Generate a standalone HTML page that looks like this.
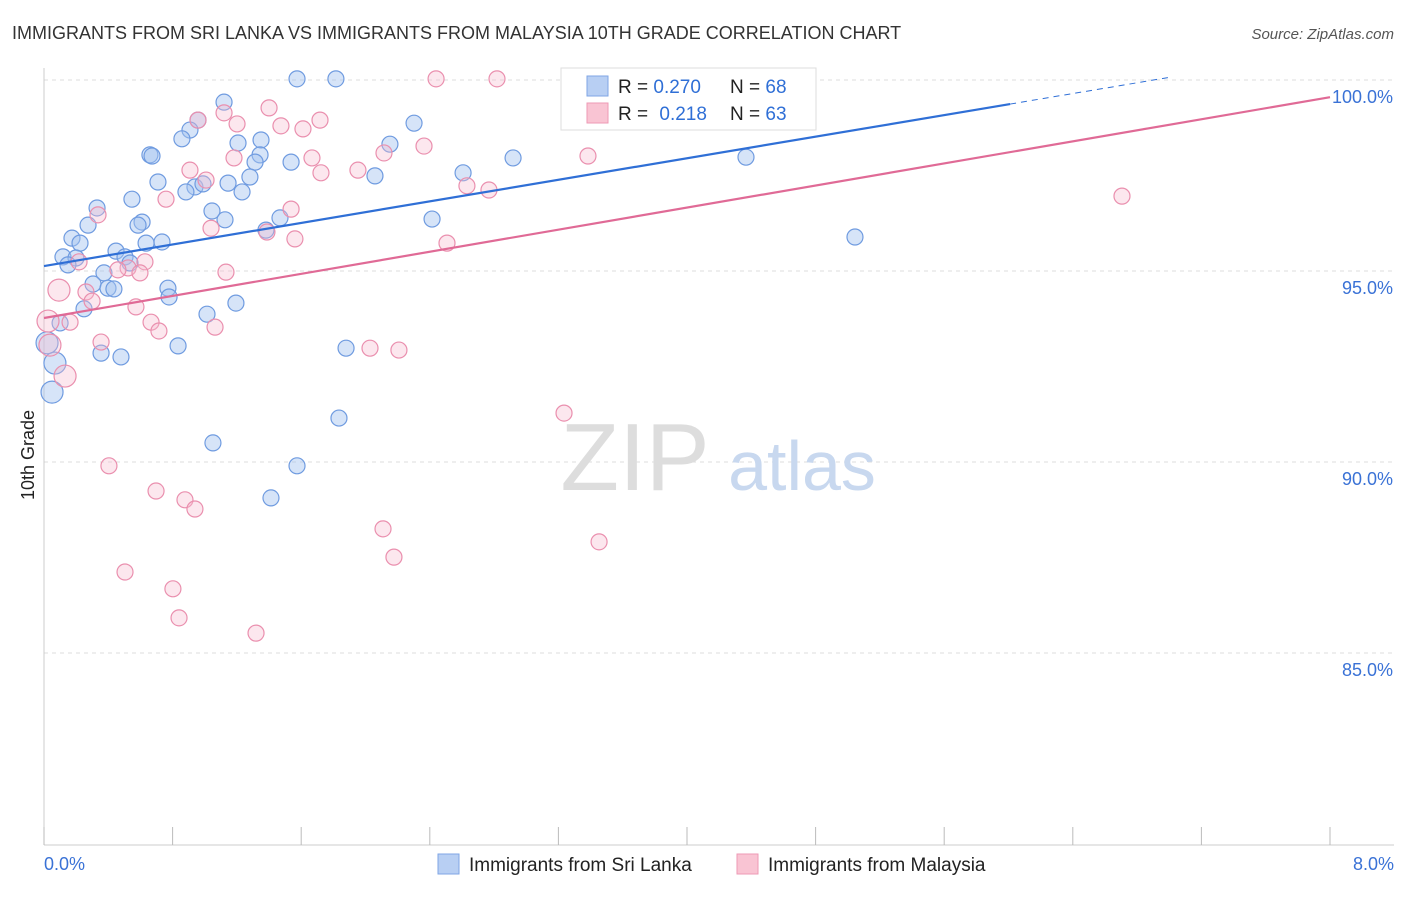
<!DOCTYPE html>
<html><head><meta charset="utf-8"><style>
body{margin:0;background:#fff;font-family:"Liberation Sans",sans-serif;}
svg text{font-family:"Liberation Sans",sans-serif;}
</style></head><body>
<svg id="chart" width="1406" height="892" xmlns="http://www.w3.org/2000/svg">
<text x="12" y="39" font-size="18" fill="#333">IMMIGRANTS FROM SRI LANKA VS IMMIGRANTS FROM MALAYSIA 10TH GRADE CORRELATION CHART</text>
<text x="1394" y="39" font-size="15" fill="#555" text-anchor="end" font-style="italic">Source: ZipAtlas.com</text>
<text transform="translate(34,455) rotate(-90)" font-size="18" fill="#222" text-anchor="middle">10th Grade</text>
<g id="grid"></g>
<g id="watermark">
<text x="635" y="490" font-size="96" fill="#ddd" font-family="Liberation Serif" text-anchor="middle">ZIP</text>
<text x="802" y="490" font-size="70" fill="#c8d8ef" text-anchor="middle">atlas</text>
</g>
<g id="axes"></g>
<g id="pts"></g>
<g id="lines"></g>
<g>
<rect x="561" y="68" width="255" height="62" fill="#fff" stroke="#ddd"/>
<rect x="587" y="76" width="21" height="20" fill="#b8cff3" stroke="#7fa6e6"/>
<rect x="587" y="103" width="21" height="20" fill="#f9c4d3" stroke="#ee9ab4"/>
<text x="618" y="93" font-size="19" fill="#222">R = <tspan fill="#2f6fd6">0.270</tspan></text>
<text x="730" y="93" font-size="19" fill="#222">N = <tspan fill="#2f6fd6">68</tspan></text>
<text x="618" y="120" font-size="19" fill="#222">R = <tspan fill="#2f6fd6" dx="6">0.218</tspan></text>
<text x="730" y="120" font-size="19" fill="#222">N = <tspan fill="#2f6fd6">63</tspan></text>
</g>
<g>
<rect x="438" y="854" width="21" height="20" fill="#b8cff3" stroke="#7fa6e6"/>
<text x="469" y="871" font-size="19" fill="#222">Immigrants from Sri Lanka</text>
<rect x="737" y="854" width="21" height="20" fill="#f9c4d3" stroke="#ee9ab4"/>
<text x="768" y="871" font-size="19" fill="#222">Immigrants from Malaysia</text>
</g>
</svg>
<script>
const xTicks=[0,0.8,1.6,2.4,3.2,4.0,4.8,5.6,6.4,7.2,8.0];
const yTicks=[85,90,95,100];
const yTickLabels=["85.0%","90.0%","95.0%","100.0%"];
const xEndLabels=["0.0%","8.0%"];
const blueX=[1.574,1.816,1.120,0.958,0.908,0.858,1.350,1.207,2.152,2.302,0.659,0.672,1.344,1.313,1.537,2.918,4.367,2.607,2.059,0.709,1.145,1.281,0.939,0.883,0.989,1.232,0.547,0.330,1.045,1.126,1.468,2.414,0.610,0.585,0.274,1.381,0.174,0.224,0.635,0.734,5.045,0.448,0.118,0.199,0.504,0.535,0.149,0.373,0.305,0.398,0.435,0.771,0.778,1.194,0.249,1.014,0.100,0.834,0.355,0.479,1.879,1.835,1.051,1.574,1.412];
const blueY=[100.03,100.03,99.42,98.95,98.69,98.46,98.43,98.35,98.32,98.87,98.04,98.01,98.04,97.85,97.85,97.96,97.98,97.57,97.49,97.33,97.30,97.46,97.20,97.07,97.28,97.07,96.88,96.65,96.57,96.34,96.39,96.36,96.28,96.20,96.20,96.07,95.86,95.73,95.73,95.76,95.89,95.52,95.37,95.34,95.37,95.21,95.16,94.95,94.66,94.55,94.53,94.55,94.32,94.16,94.01,93.87,93.64,93.04,92.85,92.75,92.98,91.15,90.50,89.90,89.06];
const blueBigX=[0.068,0.050,0.019];
const blueBigY=[92.59,91.83,93.12];
const pinkX=[2.439,2.818,1.120,0.958,1.400,1.201,1.717,1.474,1.611,2.364,2.115,1.667,1.182,3.384,0.908,1.953,1.723,1.008,2.631,2.768,0.759,0.336,1.537,1.039,1.387,1.561,2.507,0.218,0.628,0.523,1.132,0.597,0.460,0.261,0.299,0.572,0.666,0.162,0.715,1.064,0.355,2.028,2.208,6.706,3.235,0.404,0.697,0.877,0.939,2.109,3.453,2.177,0.504,0.802,0.840,1.319];
const pinkY=[100.03,100.03,99.14,98.95,99.27,98.85,98.95,98.80,98.72,98.27,98.09,97.96,97.96,98.01,97.64,97.64,97.57,97.38,97.23,97.12,96.88,96.47,96.62,96.12,96.02,95.84,95.73,95.24,95.24,95.08,94.97,94.95,95.03,94.45,94.21,94.06,93.66,93.66,93.43,93.53,93.14,92.98,92.93,96.96,91.28,89.90,89.24,89.01,88.77,88.25,87.91,87.51,87.12,86.68,85.92,85.52];
const pinkBigX=[0.093,0.025,0.037,0.131];
const pinkBigY=[94.50,93.69,93.06,92.25];
const blueTrend=[95.13,99.37,100.0]; // at x=0, 6.01, 6.9
const blueTrendX=[0,6.01,7.0];
const pinkTrend=[93.77,99.55];
const pinkTrendX=[0,8.0];

const NS="http://www.w3.org/2000/svg";
const X=v=>44+v*160.75;
const Y=v=>80+(100-v)*38.2;
function mk(tag,attrs,parent){const e=document.createElementNS(NS,tag);for(const k in attrs)e.setAttribute(k,attrs[k]);parent.appendChild(e);return e;}
const grid=document.getElementById('grid'),axes=document.getElementById('axes'),pts=document.getElementById('pts'),lines=document.getElementById('lines');
yTicks.forEach((t,i)=>{
 const l=mk('line',{x1:44,x2:1394,y1:Y(t),y2:Y(t),stroke:'#ddd','stroke-dasharray':'4 4'},grid);
 
 
 const tx=mk('text',{x:1393,y:Y(t)+23,'font-size':18,fill:'#3a72d6','text-anchor':'end'},axes);
 tx.textContent=yTickLabels[i];
 
 
});
const ax=mk('line',{x1:44,x2:1394,y1:845,y2:845,stroke:'#ccc'},axes);


const ay=mk('line',{x1:44,x2:44,y1:68,y2:845,stroke:'#ccc'},axes);


xTicks.forEach(t=>{
 const l=mk('line',{x1:X(t),x2:X(t),y1:827,y2:845,stroke:'#bbb'},axes);
 
 
});
[[0,'start',44],[1,'end',1394]].forEach(([i,a,x])=>{
 const tx=mk('text',{x:x,y:870,'font-size':18,fill:'#3a72d6','text-anchor':a},axes);
 tx.textContent=xEndLabels[i];
 
 
});
function dots(xs,ys,r,fill,stroke,name){
 xs.forEach((v,i)=>{
  const c=mk('circle',{cx:X(v),cy:Y(ys[i]),r:r,fill:fill,stroke:stroke,'stroke-width':1.2},pts);
  
  
 });
}
dots(blueX,blueY,8,'rgba(165,195,240,0.45)','#6f9be0','sri-lanka-point');
dots(blueBigX,blueBigY,11,'rgba(165,195,240,0.45)','#6f9be0','sri-lanka-point');
dots(pinkX,pinkY,8,'rgba(247,185,205,0.35)','#ea8fae','malaysia-point');
dots(pinkBigX,pinkBigY,11,'rgba(247,185,205,0.35)','#ea8fae','malaysia-point');
const bl=mk('line',{x1:X(blueTrendX[0]),y1:Y(blueTrend[0]),x2:X(blueTrendX[1]),y2:Y(blueTrend[1]),stroke:'#2f6fd6','stroke-width':2.2},lines);


const bd=mk('line',{x1:X(blueTrendX[1]),y1:Y(blueTrend[1]),x2:X(blueTrendX[2]),y2:Y(blueTrend[1]+(blueTrend[1]-blueTrend[0])/blueTrendX[1]*(blueTrendX[2]-blueTrendX[1])),stroke:'#2f6fd6','stroke-width':1,'stroke-dasharray':'6 5'},lines);


const pl=mk('line',{x1:X(pinkTrendX[0]),y1:Y(pinkTrend[0]),x2:X(pinkTrendX[1]),y2:Y(pinkTrend[1]),stroke:'#e06a96','stroke-width':2.2},lines);


</script>
</body></html>
